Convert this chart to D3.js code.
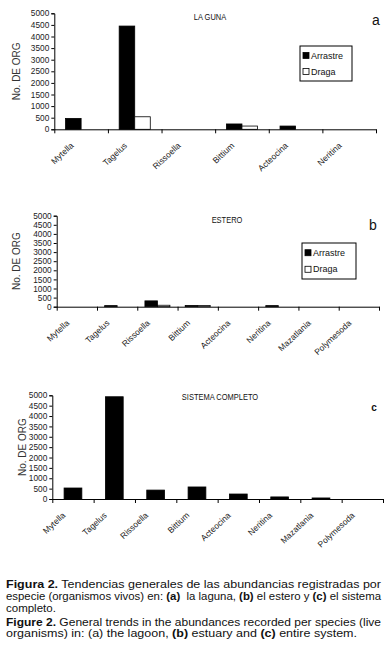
<!DOCTYPE html>
<html>
<head>
<meta charset="utf-8">
<script src="https://cdn.jsdelivr.net/npm/d3@7"></script>
<style>
  body { margin: 0; background: #fff; width: 392px; height: 659px; overflow: hidden; }
  svg { display: block; }
  .tick text { font-family: 'Liberation Sans', Arial, sans-serif; font-size: 8.3px; fill: #222; }
</style>
</head>
<body>
<div id="chart"></div>
<script>
// data
const especiesA = ['Mytella', 'Tagelus', 'Rissoella', 'Bittium', 'Acteocina', 'Neritina']
const arrastreA = [470, 4450, 0, 230, 140, 0]
const dragaA = [0, 540, 0, 140, 0, 0]

const especiesB = ['Mytella', 'Tagelus', 'Rissoella', 'Bittium', 'Acteocina', 'Neritina', 'Mazatlania', 'Polymesoda']
const arrastreB = [0, 60, 320, 70, 0, 60, 0, 0]
const dragaB = [0, 0, 80, 70, 0, 0, 0, 0]

const especiesC = ['Mytella', 'Tagelus', 'Rissoella', 'Bittium', 'Acteocina', 'Neritina', 'Mazatlania', 'Polymesoda']
const totalC = [530, 4930, 430, 580, 240, 100, 50, 0]

const yTicks = [0, 500, 1000, 1500, 2000, 2500, 3000, 3500, 4000, 4500, 5000]
const seriesNames = ['Arrastre', 'Draga']

// caption lines: [text, bold] segments
const captionLines = [
    [['Figura 2.', true], [' Tendencias generales de las abundancias registradas por', false]],
    [['especie (organismos vivos) en: ', false], ['(a)', true], ['  la laguna, ', false], ['(b)', true], [' el estero y ', false], ['(c)', true], [' el sistema', false]],
    [['completo.', false]],
    [['Figure 2.', true], [' General trends in the abundances recorded per species (live', false]],
    [['organisms) in: (a) the lagoon, ', false], ['(b)', true], [' estuary and ', false], ['(c)', true], [' entire system.', false]]
]
const captionY = [588, 600, 611.5, 625.5, 637]
const captionW = [375, 375, null, 375, 351]

const svg = d3.select('#chart').append('svg')
    .attr('width', 392)
    .attr('height', 659)

function drawPanel(p) {
    const g = svg.append('g')

    const yScale = d3.scaleLinear().domain([0, 5000]).range([p.bottom, p.top])
    const xScale = d3.scaleBand().domain(p.cats).range([p.left, p.right]).padding(0)
    const idx = d3.scaleLinear().domain([0, p.cats.length]).range([p.left, p.right])

    const series = p.series.map((s, i) => ({ name: seriesNames[i], values: s }))
    const inner = d3.scaleBand()
        .domain(series.map(s => s.name))
        .range([0, xScale.bandwidth() * p.groupWidth])
    const offset = (xScale.bandwidth() - xScale.bandwidth() * p.groupWidth) / 2

    // bars
    series.forEach((s, si) => {
        g.selectAll('.bar-' + si)
            .data(s.values.map((v, i) => ({ cat: p.cats[i], v: v })))
            .join('rect')
            .attr('x', d => xScale(d.cat) + offset + inner(s.name))
            .attr('width', inner.bandwidth())
            .attr('y', d => yScale(d.v))
            .attr('height', d => yScale(0) - yScale(d.v))
            .attr('fill', si === 0 ? '#000' : '#fff')
            .attr('stroke', '#000')
            .attr('stroke-width', d => d.v > 0 ? 0.8 : 0)
    })

    // y axis
    g.append('g')
        .attr('transform', `translate(${p.left},0)`)
        .call(d3.axisLeft(yScale).tickValues(yTicks).tickSize(3).tickPadding(2).tickFormat(d3.format('d')))
        .call(a => a.select('.domain').attr('stroke', '#000'))

    // x axis, ticks at category boundaries
    g.append('g')
        .attr('transform', `translate(0,${p.bottom})`)
        .call(d3.axisBottom(idx).tickValues(d3.range(p.cats.length + 1)).tickSize(4).tickSizeOuter(0).tickFormat(''))
        .call(a => a.select('.domain').attr('stroke', '#000'))

    // category labels
    g.selectAll('.xlab')
        .data(p.cats)
        .join('text')
        .attr('class', 'xlab')
        .attr('transform', d => `translate(${xScale(d) + xScale.bandwidth() / 2 - 7}, ${p.bottom + 17}) rotate(-43)`)
        .attr('text-anchor', 'end')
        .attr('font-family', "'Liberation Sans', Arial, sans-serif")
        .attr('font-size', 8.5)
        .attr('fill', '#222')
        .text(d => d)

    // axis label
    g.append('text')
        .attr('transform', `translate(${p.ylabX}, ${(p.top + p.bottom) / 2}) rotate(-90)`)
        .attr('text-anchor', 'middle')
        .attr('dy', '0.35em')
        .attr('font-family', "'Liberation Sans', Arial, sans-serif")
        .attr('font-size', 10)
        .attr('fill', '#333')
        .text('No. DE ORG')

    // title
    g.append('text')
        .attr('x', p.titleX)
        .attr('y', p.titleY)
        .attr('text-anchor', 'middle')
        .attr('font-family', "'Liberation Sans', Arial, sans-serif")
        .attr('font-size', 8.5)
        .attr('transform', `translate(${p.titleX * 0.12}, 0) scale(0.88, 1)`)
        .attr('fill', '#111')
        .text(p.title)

    // panel letter
    g.append('text')
        .attr('x', p.letterX)
        .attr('y', p.letterY)
        .attr('text-anchor', 'middle')
        .attr('font-family', "'Liberation Sans', Arial, sans-serif")
        .attr('font-size', p.letterSize)
        .attr('font-weight', p.letterBold ? 'bold' : 'normal')
        .attr('fill', '#111')
        .text(p.letter)

    // legend
    if (p.legend) {
        const L = p.legend
        g.append('rect')
            .attr('x', L.x).attr('y', L.y)
            .attr('width', L.w).attr('height', L.h)
            .attr('fill', '#fff').attr('stroke', '#000').attr('stroke-width', 1)
        series.forEach((s, i) => {
            const cy = L.y + L.h * (i === 0 ? 0.27 : 0.73)
            g.append('rect')
                .attr('x', L.x + 3).attr('y', cy - 3)
                .attr('width', 6).attr('height', 6)
                .attr('fill', i === 0 ? '#000' : '#fff')
                .attr('stroke', '#000').attr('stroke-width', 0.8)
            g.append('text')
                .attr('x', L.x + 11).attr('y', cy)
                .attr('dy', '0.35em')
                .attr('font-family', "'Liberation Sans', Arial, sans-serif")
                .attr('font-size', 9)
                .attr('fill', '#111')
                .text(s.name)
        })
    }
}

drawPanel({
    cats: especiesA, series: [arrastreA, dragaA],
    left: 54.3, right: 376, top: 13.3, bottom: 129.3, groupWidth: 0.58,
    title: 'LA GUNA', titleX: 210, titleY: 20,
    letter: 'a', letterX: 376, letterY: 25, letterSize: 14,
    ylabX: 16,
    legend: { x: 300, y: 46, w: 52, h: 35 }
})

drawPanel({
    cats: especiesB, series: [arrastreB, dragaB],
    left: 56.7, right: 379, top: 215.7, bottom: 306.7, groupWidth: 0.62,
    title: 'ESTERO', titleX: 227, titleY: 223,
    letter: 'b', letterX: 373, letterY: 230, letterSize: 14,
    ylabX: 16,
    legend: { x: 302, y: 243, w: 54, h: 36 }
})

drawPanel({
    cats: especiesC, series: [totalC],
    left: 52.3, right: 383, top: 395.3, bottom: 499, groupWidth: 0.43,
    title: 'SISTEMA COMPLETO', titleX: 220, titleY: 400,
    letter: 'c', letterX: 374, letterY: 411, letterSize: 10, letterBold: true,
    ylabX: 22
})

// caption, each line stretched to the reference width
captionLines.forEach((line, i) => {
    const t = svg.append('text')
        .attr('x', 6)
        .attr('y', captionY[i])
        .attr('font-family', "'Liberation Sans', Arial, sans-serif")
        .attr('font-size', 11.5)
        .attr('fill', '#111')
        .attr('xml:space', 'preserve')
        .style('white-space', 'pre')
    if (captionW[i]) t.attr('textLength', captionW[i]).attr('lengthAdjust', 'spacingAndGlyphs')
    line.forEach(seg => {
        t.append('tspan')
            .attr('font-weight', seg[1] ? 'bold' : 'normal')
            .text(seg[0])
    })
})
</script>
</body>
</html>
